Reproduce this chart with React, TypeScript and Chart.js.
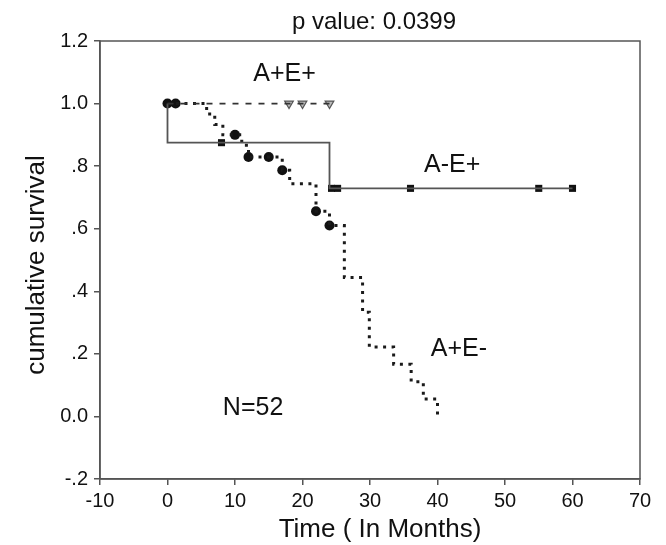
import React, { useEffect, useRef } from "react";
import { Chart, registerables } from "chart.js";

Chart.register(...registerables);

// ---- data ----
const X_TICKS = [-10, 0, 10, 20, 30, 40, 50, 60, 70];
const Y_TICKS = [-0.2, 0, 0.2, 0.4, 0.6, 0.8, 1.0, 1.2];
const Y_TICK_LABELS = ["-.2", "0.0", ".2", ".4", ".6", ".8", "1.0", "1.2"];

// A+E+ (dashed)
const AEP_TIME = [0, 24];
const AEP_SURV = [1.0, 1.0];
const AEP_CENS_TIME = [18, 20, 24];
const AEP_CENS_SURV = [1.0, 1.0, 1.0];

// A-E+ (solid)
const AMEP_TIME = [0, 0, 24, 60];
const AMEP_SURV = [1.0, 0.875, 0.729, 0.729];
const AMEP_CENS_TIME = [8, 24.3, 25.2, 36, 55, 60];
const AMEP_CENS_SURV = [0.875, 0.729, 0.729, 0.729, 0.729, 0.729];

// A+E- (dotted)
const APEM_TIME = [0, 5.8, 7, 8.2, 11, 12, 17, 18.1, 22, 24, 26.2, 28.9, 29.9, 33.5, 36.1, 37.9, 40];
const APEM_SURV = [1.0, 0.967, 0.933, 0.9, 0.867, 0.829, 0.787, 0.744, 0.656, 0.61, 0.444, 0.333, 0.222, 0.167, 0.111, 0.056, 0.0];
const APEM_CENS_TIME = [0, 1.2, 10, 12, 15, 17, 22, 24];
const APEM_CENS_SURV = [1.0, 1.0, 0.9, 0.829, 0.829, 0.787, 0.656, 0.61];

const TITLE = "p value: 0.0399";
const X_TITLE = "Time ( In Months)";
const Y_TITLE = "cumulative survival";
const LABELS = ["A+E+", "A-E+", "A+E-", "N=52"];

const zip = (xs: number[], ys: number[]) => xs.map((x, i) => ({ x, y: ys[i] }));

const FONT = "'Liberation Sans', Arial, sans-serif";

const textPlugin = {
  id: "texts",
  afterDraw(chart: any) {
    const { ctx, chartArea: a, scales } = chart;
    const xs = scales.x;
    const ys = scales.y;
    ctx.save();
    // box
    ctx.strokeStyle = "#555";
    ctx.lineWidth = 1.5;
    ctx.strokeRect(a.left, a.top, a.right - a.left, a.bottom - a.top);

    ctx.fillStyle = "#111";
    ctx.textBaseline = "alphabetic";
    ctx.font = `24px ${FONT}`;
    ctx.textAlign = "center";
    ctx.fillText(TITLE, 374, 29);

    ctx.font = `26px ${FONT}`;
    ctx.fillText(X_TITLE, 380, 537);

    ctx.save();
    ctx.translate(44, 265);
    ctx.rotate(-Math.PI / 2);
    ctx.fillText(Y_TITLE, 0, 0);
    ctx.restore();

    ctx.textAlign = "left";
    ctx.font = `25px ${FONT}`;
    const pos = [
      [12.7, 1.072],
      [38.0, 0.78],
      [39.0, 0.192],
      [8.2, 0.006],
    ];
    LABELS.forEach((t, i) => {
      ctx.fillText(t, xs.getPixelForValue(pos[i][0]), ys.getPixelForValue(pos[i][1]));
    });
    ctx.restore();
  },
};

export default function App() {
  const ref = useRef<HTMLCanvasElement | null>(null);
  useEffect(() => {
    if (!ref.current) return;
    const chart = new Chart(ref.current, {
      type: "scatter",
      data: {
        datasets: [
          {
            label: "A+E+",
            data: zip(AEP_TIME, AEP_SURV),
            showLine: true,
            stepped: true,
            borderColor: "#333",
            borderWidth: 1.8,
            borderDash: [6, 7],
            pointRadius: 0,
            fill: false,
          } as any,
          {
            label: "A-E+",
            data: zip(AMEP_TIME, AMEP_SURV),
            showLine: true,
            stepped: true,
            borderColor: "#555",
            borderWidth: 1.8,
            pointRadius: 0,
            fill: false,
          },
          {
            label: "A+E-",
            data: zip(APEM_TIME, APEM_SURV),
            showLine: true,
            stepped: true,
            borderColor: "#1a1a1a",
            borderWidth: 3,
            borderDash: [3, 5.5],
            pointRadius: 0,
            fill: false,
          },
          {
            label: "A+E+ censored",
            data: zip(AEP_CENS_TIME, AEP_CENS_SURV),
            pointStyle: "triangle",
            rotation: 180,
            pointRadius: 5,
            borderColor: "#555",
            backgroundColor: "#bbb",
            borderWidth: 1.2,
          },
          {
            label: "A-E+ censored",
            data: zip(AMEP_CENS_TIME, AMEP_CENS_SURV),
            pointStyle: "rect",
            pointRadius: 5,
            borderColor: "#111",
            backgroundColor: "#111",
            borderWidth: 0,
          },
          {
            label: "A+E- censored",
            data: zip(APEM_CENS_TIME, APEM_CENS_SURV),
            pointStyle: "circle",
            pointRadius: 5,
            borderColor: "#111",
            backgroundColor: "#111",
            borderWidth: 0,
          },
        ],
      },
      options: {
        animation: false,
        responsive: false,
        layout: { padding: { top: 41, right: 26, left: 0, bottom: 0 } },
        plugins: { legend: { display: false }, tooltip: { enabled: false }, title: { display: false } },
        scales: {
          x: {
            type: "linear",
            min: -10,
            max: 70,
            afterFit: (s: any) => { s.height = 66; },
            afterBuildTicks: (s: any) => { s.ticks = X_TICKS.map((v) => ({ value: v })); },
            ticks: { color: "#111", font: { family: FONT, size: 20 }, padding: 4, callback: (v: any) => String(v) },
            grid: { drawOnChartArea: false, drawTicks: true, tickLength: 6, color: "#555", lineWidth: 1.5 },
            border: { display: true, color: "#555", width: 1.5 },
          },
          y: {
            type: "linear",
            min: -0.2,
            max: 1.2,
            afterFit: (s: any) => { s.width = 100; },
            afterBuildTicks: (s: any) => { s.ticks = Y_TICKS.map((v) => ({ value: v })); },
            ticks: {
              color: "#111",
              font: { family: FONT, size: 20 },
              padding: 6,
              callback: (v: any) => {
                const i = Y_TICKS.findIndex((t) => Math.abs(t - Number(v)) < 1e-6);
                return i >= 0 ? Y_TICK_LABELS[i] : "";
              },
            },
            grid: { drawOnChartArea: false, drawTicks: true, tickLength: 6, color: "#555", lineWidth: 1.5 },
            border: { display: true, color: "#555", width: 1.5 },
          },
        },
      },
      plugins: [textPlugin],
    });
    return () => chart.destroy();
  }, []);
  return (
    <div style={{ position: "fixed", left: 0, top: 0, width: 666, height: 545, background: "#fff" }}>
      <canvas ref={ref} width={666} height={545} style={{ display: "block" }} />
    </div>
  );
}
